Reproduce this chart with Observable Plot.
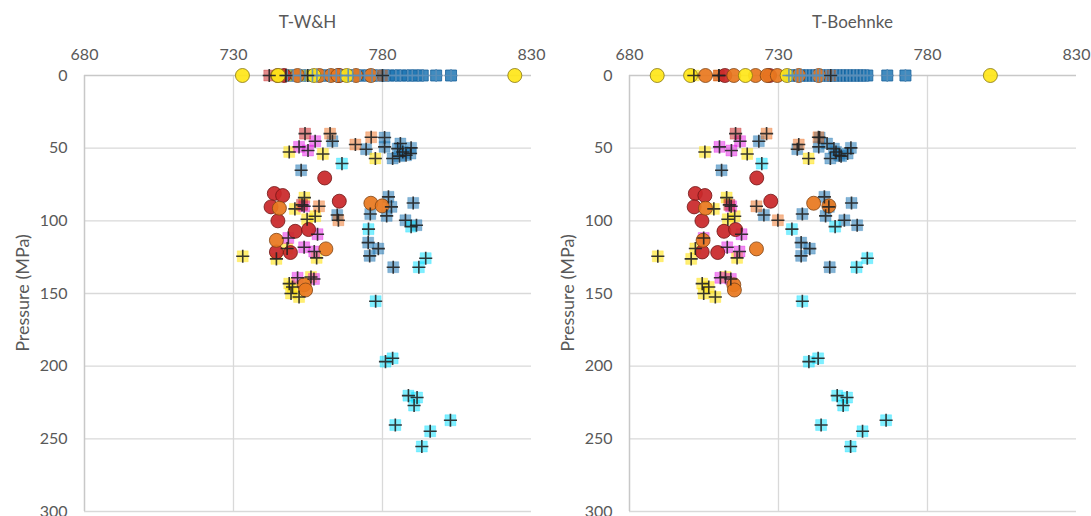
<!DOCTYPE html>
<html>
<head>
<meta charset="utf-8">
<script src="https://cdn.jsdelivr.net/npm/d3@7"></script>
<script src="https://cdn.jsdelivr.net/npm/@observablehq/plot@0.6"></script>
<style>
  body { margin: 0; background: #fff; font-family: Lato, "Open Sans", sans-serif; }
  #wrap { display: flex; width: 1091px; height: 516px; overflow: hidden; }
  .panel { position: relative; }
  .title { height: 36px; line-height: 44px; font-size: 17px; color: #595959; text-align: center; }
  .ylabel { position: absolute; left: 22px; top: 293px; transform: translate(-50%, -50%) rotate(-90deg);
            white-space: nowrap; font-size: 18px; color: #595959; }
</style>
</head>
<body>
<div id="wrap"></div>
<script>
// Axis ticks
const xTicks = [680, 730, 780, 830];
const yTicks = [0, 50, 100, 150, 200, 250, 300];
const panelTitles = ["T-W&H", "T-Boehnke"];
const yLabel = "Pressure (MPa)";

// Square + cross samples: pressure (MPa), temperature by W&H, temperature by Boehnke
const blueP  = [45.2, 50.7, 42.7, 49.1, 57.1, 46.8, 52.6, 54.9, 49.8, 53.7, 55.5, 50.3, 65.2, 83.5, 90.4, 95.3, 96.6, 87.7, 99.6, 103.0, 96.0, 115.0, 119.1, 124.1, 131.9];
const blueWH = [763.2, 774.5, 780.7, 780.7, 783.4, 786.0, 786.8, 787.9, 789.6, 789.4, 785.7, 785.1, 752.7, 782.0, 783.0, 775.9, 781.4, 790.3, 787.7, 791.4, 764.8, 775.2, 778.6, 775.7, 783.6];
const blueBo = [723.4, 736.3, 743.8, 743.5, 747.4, 746.3, 749.3, 750.4, 754.3, 753.2, 751.0, 748.6, 710.9, 745.4, 746.9, 738.0, 745.8, 754.5, 752.1, 756.4, 725.1, 737.6, 740.5, 737.6, 747.2];

// Samples without a pressure estimate (plotted at 0 MPa)
const blueZeroWH = [748, 750, 752.5, 754, 756.5, 758, 760.5, 762, 764.5, 766, 768.5, 770, 772.5, 774, 776.5, 778, 780.5, 782, 784.5, 786, 788.5, 790, 792, 793.5, 798, 803];
const blueZeroBo = [733.5, 734.6, 735.8, 737, 738, 739.3, 740.4, 741.5, 742.7, 743.8, 745, 746, 747.2, 748.3, 749.5, 750.6, 751.7, 752.9, 754, 755.2, 756.3, 757.5, 758.6, 759.8, 766.5, 772.6];
const blueZeroP  = blueZeroWH.map(() => 0);

const cyanP  = [60.6, 105.7, 104.0, 125.7, 131.9, 155.3, 196.9, 194.6, 220.3, 221.6, 227.1, 240.5, 244.8, 237.2, 255.3];
const cyanWH = [766.4, 775.3, 789.6, 794.5, 792.2, 777.7, 781.0, 783.4, 788.7, 791.6, 790.6, 784.3, 796.0, 802.8, 793.2];
const cyanBo = [724.4, 734.5, 749.0, 759.8, 756.2, 738.0, 740.2, 743.3, 749.7, 753.0, 751.7, 744.3, 758.2, 766.1, 754.2];

const yellowSqP  = [52.6, 54.0, 57.1, 84.0, 91.8, 98.9, 96.8, 124.4, 126.2, 125.5, 143.2, 145.5, 150.0, 152.4, 138.6, 119.0, 0, 0];
const yellowSqWH = [748.7, 760.0, 777.6, 753.8, 750.6, 754.7, 757.4, 733.1, 744.4, 757.9, 748.7, 749.8, 749.3, 752.0, 756.0, 748.0, 747.6, 754.9];
const yellowSqBo = [705.3, 719.5, 740.1, 712.6, 708.3, 713.0, 715.3, 689.5, 700.7, 716.1, 704.4, 706.6, 704.9, 708.8, 712.2, 702.1, 701.6, 710.0];

const magentaP  = [45.2, 49.1, 51.6, 90.0, 109.2, 111.8, 118.2, 121.1, 139.2, 140.0];
const magentaWH = [757.4, 752.0, 755.0, 753.7, 758.2, 748.4, 753.7, 757.1, 751.5, 757.0];
const magentaBo = [717.1, 710.2, 714.2, 714.1, 717.6, 704.9, 712.8, 716.9, 710.5, 714.0];

const orangeSqP  = [40.0, 42.5, 47.5, 90.0, 99.6, 0];
const orangeSqWH = [762.4, 776.2, 770.9, 758.7, 765.2, 780.0];
const orangeSqBo = [726.0, 743.4, 736.8, 722.6, 729.8, 747.5];

const redSqP  = [40.0, 89.0, 0];
const redSqWH = [754.0, 753.0, 742.0];
const redSqBo = [715.6, 713.5, 710.0];

// Circle samples
const redCircP  = [70.5, 81.2, 82.6, 90.4, 100.0, 86.5, 107.2, 106.0, 121.4, 121.8, 0, 0];
const redCircWH = [760.6, 743.7, 746.5, 742.6, 744.9, 765.5, 750.7, 755.2, 744.4, 749.1, 747.0, 765.5];
const redCircBo = [722.7, 702.1, 705.3, 701.7, 704.3, 727.4, 711.7, 715.6, 704.4, 709.6, 712.0, 727.0];

const orangeCircP  = [91.3, 87.9, 89.7, 113.4, 119.3, 144.0, 147.6, 0, 0, 0, 0, 0, 0, 0];
const orangeCircWH = [745.4, 776.1, 779.9, 744.4, 761.0, 753.7, 754.2, 744.8, 751.5, 758.8, 762.7, 765.0, 771.1, 776.1];
const orangeCircBo = [705.5, 741.8, 746.9, 704.7, 722.6, 715.0, 715.2, 705.5, 715.0, 722.3, 726.2, 729.6, 736.8, 743.5];

const yellowCircP  = [0, 0, 0, 0, 0];
const yellowCircWH = [733.0, 745.0, 757.0, 768.0, 824.4];
const yellowCircBo = [689.3, 700.5, 718.9, 732.9, 801.1];

function rows(P, WH, Bo, k) {
  return P.map((p, i) => ({P: p, T: k === 0 ? WH[i] : Bo[i]}));
}

const squareSeries = [
  {P: blueZeroP, WH: blueZeroWH, Bo: blueZeroBo, fill: "#1f77b4", op: 0.85, edge: "#17609a", edgeOp: 0.8, cross: "#5b8fb9"},
  {P: blueP, WH: blueWH, Bo: blueBo, fill: "#1f77b4", op: 0.55, edge: "#1f77b4", edgeOp: 0.25, cross: "#222"},
  {P: cyanP, WH: cyanWH, Bo: cyanBo, fill: "#00e0ff", op: 0.5, edge: "#00e0ff", edgeOp: 0.25, cross: "#222"},
  {P: yellowSqP, WH: yellowSqWH, Bo: yellowSqBo, fill: "#ffe100", op: 0.55, edge: "#ffe100", edgeOp: 0.25, cross: "#222"},
  {P: magentaP, WH: magentaWH, Bo: magentaBo, fill: "#e000e0", op: 0.45, edge: "#e000e0", edgeOp: 0.25, cross: "#222"},
  {P: orangeSqP, WH: orangeSqWH, Bo: orangeSqBo, fill: "#ee7020", op: 0.5, edge: "#ee7020", edgeOp: 0.25, cross: "#222"},
  {P: redSqP, WH: redSqWH, Bo: redSqBo, fill: "#c00000", op: 0.45, edge: "#c00000", edgeOp: 0.25, cross: "#222"}
];
const circleSeries = [
  {P: redCircP, WH: redCircWH, Bo: redCircBo, fill: "#c9282a", stroke: "#6e1414"},
  {P: orangeCircP, WH: orangeCircWH, Bo: orangeCircBo, fill: "#e8781f", stroke: "#7f4415"},
  {P: yellowCircP, WH: yellowCircWH, Bo: yellowCircBo, fill: "#ffe61a", stroke: "#857510"}
];

function drawPanel(k, width, marginRight) {
  const marginLeft = 84;
  const marks = [
    Plot.gridY(yTicks.filter(d => d > 0), {stroke: "#d9d9d9", strokeOpacity: 1, strokeWidth: 1.3}),
    Plot.gridX(xTicks.slice(1, 3), {stroke: "#d9d9d9", strokeOpacity: 1, strokeWidth: 1.3}),
    Plot.ruleX([xTicks[0]], {stroke: "#c8c8c8", strokeWidth: 1.5}),
    Plot.ruleY([yTicks[0]], {stroke: "#c8c8c8", strokeWidth: 1.5}),
    Plot.axisX({anchor: "top", ticks: xTicks, tickSize: 0, tickPadding: 16, label: null, fontSize: 16}),
    Plot.axisY({anchor: "left", ticks: yTicks, tickSize: 0, tickPadding: 17, fontSize: 16, label: null})
  ];
  for (const s of squareSeries) {
    marks.push(Plot.dot(rows(s.P, s.WH, s.Bo, k), {
      x: "T", y: "P", symbol: "square", r: 6.2,
      fill: s.fill, fillOpacity: s.op, stroke: s.edge, strokeOpacity: s.edgeOp, strokeWidth: 1
    }));
  }
  for (const s of circleSeries) {
    marks.push(Plot.dot(rows(s.P, s.WH, s.Bo, k), {
      x: "T", y: "P", r: 7, fill: s.fill, fillOpacity: 0.93, stroke: s.stroke, strokeWidth: 0.8
    }));
  }
  for (const s of squareSeries) {
    marks.push(Plot.dot(rows(s.P, s.WH, s.Bo, k), {
      x: "T", y: "P", symbol: "plus", r: 4.3, stroke: s.cross, strokeWidth: 1.6, strokeOpacity: 0.9
    }));
  }
  const svg = Plot.plot({
    width, height: 480,
    marginLeft, marginRight, marginTop: 39, marginBottom: 5,
    style: {fontFamily: "Lato, 'Open Sans', sans-serif", fontSize: "16px", color: "#595959", background: "transparent", overflow: "visible"},
    x: {domain: [xTicks[0], xTicks[xTicks.length - 1]]},
    y: {domain: [yTicks[0], yTicks[yTicks.length - 1]], reverse: true},
    marks
  });
  const div = document.createElement("div");
  div.className = "panel";
  div.style.width = width + "px";
  const t = document.createElement("div");
  t.className = "title";
  t.style.marginLeft = marginLeft + "px";
  t.style.marginRight = marginRight + "px";
  t.textContent = panelTitles[k];
  div.appendChild(t);
  div.appendChild(svg);
  const yl = document.createElement("div");
  yl.className = "ylabel";
  yl.textContent = yLabel;
  div.appendChild(yl);
  return div;
}

const wrap = document.getElementById("wrap");
wrap.appendChild(drawPanel(0, 545, 14));
wrap.appendChild(drawPanel(1, 546, 15));
</script>
</body>
</html>
